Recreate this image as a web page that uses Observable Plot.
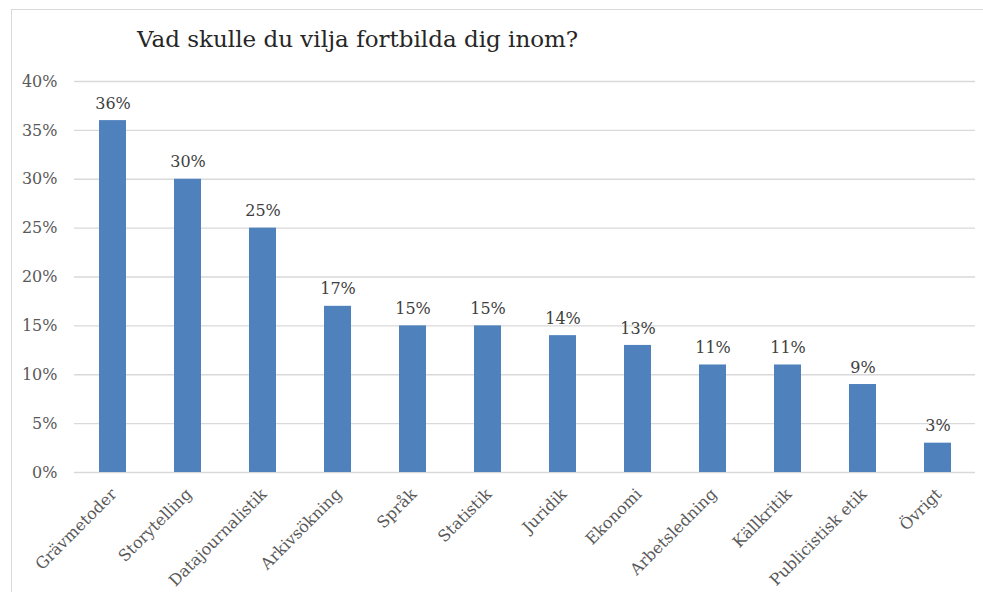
<!DOCTYPE html>
<html>
<head>
<meta charset="utf-8">
<script src="https://cdn.jsdelivr.net/npm/d3@7"></script>
<script src="https://cdn.jsdelivr.net/npm/@observablehq/plot@0.6"></script>
<style>
  html, body { margin: 0; padding: 0; background: #fff; overflow: hidden; }
  #wrap { position: relative; width: 983px; height: 592px; overflow: hidden; }
  #frame { position: absolute; left: 11px; top: 9px; width: 1000px; height: 700px; border: 1px solid #d9d9d9; box-sizing: border-box; }
  #title { position: absolute; left: 137px; top: 26px; font-family: "DejaVu Serif", serif; font-size: 23px; color: #262626; white-space: nowrap; }
  #chart { position: absolute; left: 0; top: 0; }
</style>
</head>
<body>
<div id="wrap">
  <div id="frame"></div>
  <div id="title">Vad skulle du vilja fortbilda dig inom?</div>
  <div id="chart"></div>
</div>
<script>
const categories = ["Grävmetoder","Storytelling","Datajournalistik","Arkivsökning","Språk","Statistik","Juridik","Ekonomi","Arbetsledning","Källkritik","Publicistisk etik","Övrigt"];
const values = [36, 30, 25, 17, 15, 15, 14, 13, 11, 11, 9, 3];
const yTicks = [0, 5, 10, 15, 20, 25, 30, 35, 40];

const data = categories.map((c, i) => ({category: c, value: values[i]}));

const chart = Plot.plot({
  width: 983,
  height: 592,
  marginLeft: 74,
  marginRight: 8,
  marginTop: 81,
  marginBottom: 120,
  style: {fontFamily: "DejaVu Serif, serif", fontSize: "15px", color: "#595959", background: "transparent"},
  x: {domain: categories, paddingInner: 0.64, paddingOuter: 0.32, label: null},
  y: {domain: [0, 40], label: null},
  marks: [
    Plot.gridY(yTicks, {stroke: "#d9d9d9", strokeOpacity: 1, strokeWidth: 1.3}),
    Plot.barY(data, {x: "category", y: "value", fill: "#4F81BD"}),
    Plot.text(data, {x: "category", y: "value", text: d => d.value + "%", dy: -17, fill: "#404040", fontSize: 16}),
    Plot.axisY({ticks: yTicks, tickFormat: d => d + "%", tickSize: 0, tickPadding: 17, fontSize: 16, label: null}),
    Plot.axisX({tickSize: 0, tickRotate: -45, tickPadding: 19, fontSize: 16, label: null, dx: 1})
  ]
});
document.getElementById("chart").appendChild(chart);
</script>
</body>
</html>
